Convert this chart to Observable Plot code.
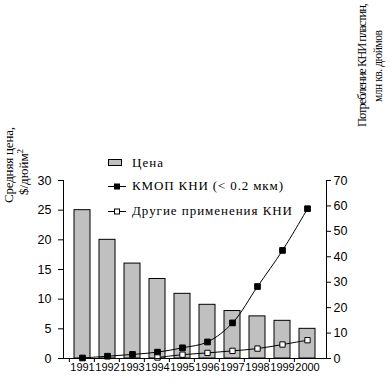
<!DOCTYPE html>
<html><head><meta charset="utf-8">
<script src="https://cdn.jsdelivr.net/npm/d3@7"></script>
<script src="https://cdn.jsdelivr.net/npm/@observablehq/plot@0.6"></script>
<style>body{margin:0;background:#fff} svg{display:block}</style>
</head><body><div id="chart"></div>
<script>
const years = ["1991","1992","1993","1994","1995","1996","1997","1998","1999","2000"];
const price = [25, 20, 16, 13.4, 10.9, 9.05, 8, 7.1, 6.35, 5];
const kmop = [0.2, 0.9, 1.6, 2.5, 4.2, 6.5, 14, 28.3, 42.5, 58.9];
const otherYears = ["1994","1995","1996","1997","1998","1999","2000"];
const other = [0.4, 1.5, 2.2, 3.0, 3.9, 5.5, 7.2];
const leftTicks = [0, 5, 10, 15, 20, 25, 30];
const rightTicks = [0, 10, 20, 30, 40, 50, 60, 70];
const legendLabels = ["Цена", "КМОП КНИ (< 0.2 мкм)", "Другие применения КНИ"];
const leftTitle = ["Средняя цена,", "$/дюйм"];
const rightTitle = ["Потребление КНИ пластин,", "млн кв. дюймов"];

const k = 30 / 70;
const priceData = years.map((y, i) => ({year: y, v: price[i]}));
const kmopData = years.map((y, i) => ({year: y, v: kmop[i] * k}));
const otherData = otherYears.map((y, i) => ({year: y, v: other[i] * k}));

const numFont = "'Liberation Sans', Arial, sans-serif";
const serif = "'Liberation Serif', 'Times New Roman', serif";

const chart = Plot.plot({
  width: 390, height: 381,
  marginLeft: 63, marginRight: 64, marginTop: 180, marginBottom: 23,
  style: {fontFamily: numFont, fontSize: "12px", color: "black", background: "white"},
  x: {type: "band", domain: years, padding: 0.36, label: null},
  y: {domain: [0, 30], label: null},
  marks: [
    Plot.barY(priceData, {x: "year", y: "v", fill: "#c0c0c0", stroke: "black", strokeWidth: 1}),
    Plot.line(kmopData, {x: "year", y: "v", curve: "catmull-rom", stroke: "black", strokeWidth: 1}),
    Plot.line(otherData, {x: "year", y: "v", curve: "catmull-rom", stroke: "black", strokeWidth: 1}),
    Plot.dot(kmopData, {x: "year", y: "v", symbol: "square", r: 3.2, fill: "black", stroke: "black", strokeWidth: 1}),
    Plot.dot(otherData, {x: "year", y: "v", symbol: "square", r: 3, fill: "white", stroke: "black", strokeWidth: 1}),
    Plot.frame({anchor: "left", stroke: "black"}),
    Plot.frame({anchor: "right", stroke: "black"}),
    Plot.ruleY([0], {stroke: "black"}),
    Plot.axisY({anchor: "left", ticks: leftTicks, tickSize: 5, tickPadding: 7, label: null, fontSize: 12.5}),
    Plot.axisY({anchor: "right", ticks: rightTicks.map(v => v * k), tickFormat: d => String(Math.round(d / k)), tickSize: 4, tickPadding: 3, label: null, fontSize: 12.5}),
    Plot.axisX({tickSize: 0, tickPadding: 5, label: null, fontSize: 11}),
    Plot.axisX({tickSize: 4, tickFormat: () => "", dx: -13.15, label: null})
  ]
});

const svg = d3.select(chart);
// legend
const lg = svg.append("g").attr("font-family", serif).attr("font-size", 13).attr("fill", "black").attr("text-anchor", "start");
lg.append("rect").attr("x", 108.5).attr("y", 159.5).attr("width", 13).attr("height", 6)
  .attr("fill", "#c0c0c0").attr("stroke", "black");
lg.append("text").attr("x", 132).attr("y", 167).attr("textLength", 31).text(legendLabels[0]);
lg.append("line").attr("x1", 108).attr("x2", 126).attr("y1", 186.5).attr("y2", 186.5).attr("stroke", "black");
lg.append("rect").attr("x", 114.5).attr("y", 184).attr("width", 5).attr("height", 5).attr("fill", "black").attr("stroke", "black");
lg.append("text").attr("x", 132).attr("y", 190).attr("textLength", 151).text(legendLabels[1]);
lg.append("line").attr("x1", 108).attr("x2", 126).attr("y1", 211.5).attr("y2", 211.5).attr("stroke", "black");
lg.append("rect").attr("x", 114.5).attr("y", 209).attr("width", 5).attr("height", 5).attr("fill", "white").attr("stroke", "black");
lg.append("text").attr("x", 132).attr("y", 215).attr("textLength", 160).text(legendLabels[2]);

// left title (rotated, reading bottom-to-top)
const lt = svg.append("g").attr("font-family", serif).attr("font-size", 13).attr("fill", "black").attr("text-anchor", "start");
lt.append("text").attr("transform", "translate(13,203) rotate(-90)").attr("textLength", 76).text(leftTitle[0]);
const t2 = lt.append("text").attr("transform", "translate(28,195) rotate(-90)");
t2.append("tspan").text(leftTitle[1]);
t2.append("tspan").attr("dy", -5).attr("font-size", 9).text("2");

// right title
const rt = svg.append("g").attr("font-family", serif).attr("fill", "black").attr("text-anchor", "start");
rt.append("text").attr("transform", "translate(366,127) rotate(-90)").attr("font-size", 12.5).attr("textLength", 124).text(rightTitle[0]);
rt.append("text").attr("transform", "translate(382,102) rotate(-90)").attr("font-size", 11.5).attr("textLength", 72).text(rightTitle[1]);

document.getElementById("chart").appendChild(chart);
</script>
</body></html>
